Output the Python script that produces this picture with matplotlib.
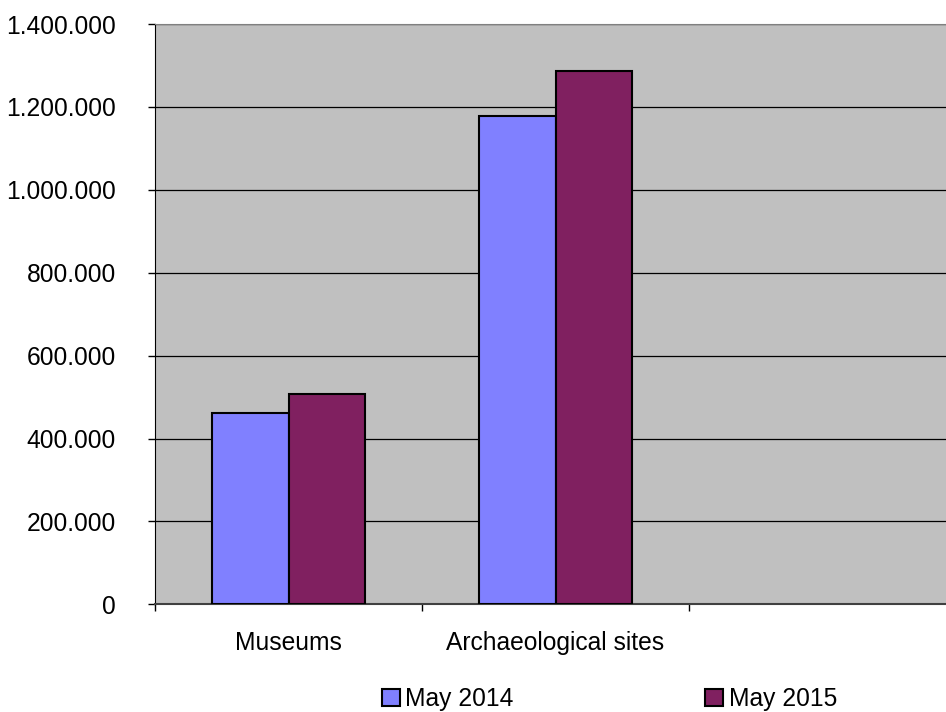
import matplotlib.pyplot as plt
from matplotlib.ticker import FuncFormatter
import numpy as np

plt.rcParams['font.family'] = ['Liberation Sans', 'DejaVu Sans']

categories = ["Museums", "Archaeological sites", ""]
may_2014 = [461000, 1178000, 0]
may_2015 = [507000, 1287000, 0]
yticks = [0, 200000, 400000, 600000, 800000, 1000000, 1200000, 1400000]

fig = plt.figure(figsize=(9.46, 7.12), dpi=100)
ax = fig.add_axes([155 / 946, 1 - 604.3 / 712, 791 / 946, 580.3 / 712])
ax.set_facecolor("#C0C0C0")

x = np.arange(len(categories))
w = 0.2865
ax.bar(x[:2] - w / 2, may_2014[:2], w, color="#8080FF", edgecolor="black",
       linewidth=1.5, label="May 2014", zorder=3)
ax.bar(x[:2] + w / 2, may_2015[:2], w, color="#802060", edgecolor="black",
       linewidth=1.5, label="May 2015", zorder=3)

ax.set_xlim(-0.5, -0.5 + 791 / 267)
ax.set_ylim(0, 1400000)
ax.set_yticks(yticks)
ax.yaxis.set_major_formatter(FuncFormatter(lambda v, p: f"{int(v):,}".replace(",", ".")))
ax.yaxis.grid(True, color="black", linewidth=0.9, zorder=1)
ax.set_axisbelow(True)

ax.set_xticks([-0.5, 0.5, 1.5])
ax.set_xticklabels([])
ax.set_xticks(x, minor=True)
ax.set_xticklabels(categories, minor=True)
ax.tick_params(axis="x", which="minor", length=0, pad=19.5, labelsize=17.7)
ax.tick_params(axis="x", which="major", length=5, width=1, color="black")
ax.tick_params(axis="y", length=5, width=1, labelsize=17.7, pad=23)

ax.spines["right"].set_visible(False)
ax.spines["top"].set_color("#808080")
ax.spines["left"].set_color("black")
ax.spines["bottom"].set_color("#404040")
ax.spines["bottom"].set_linewidth(1.5)

fig.legend(loc="center", bbox_to_anchor=(0.644, 0.018), ncol=2, frameon=False,
           fontsize=17.7, handlelength=0.73, handleheight=0.73, handletextpad=0.24,
           columnspacing=7.77, borderpad=0)

fig.savefig("out.png", dpi=100)
